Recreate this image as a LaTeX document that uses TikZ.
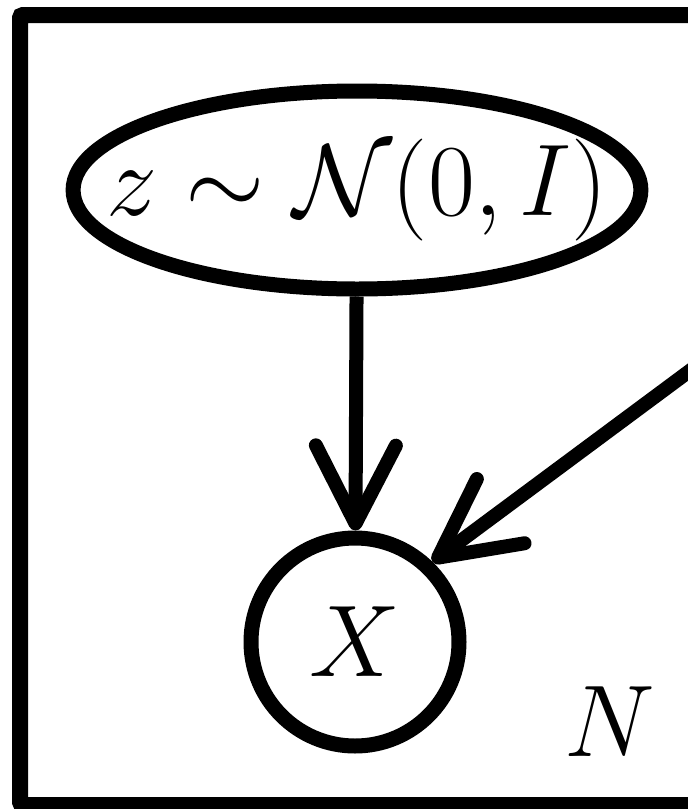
\RequirePackage{fix-cm}
\documentclass[tikz,border=0pt]{standalone}
\usetikzlibrary{arrows.meta,shapes.geometric}

\begin{document}
\begin{tikzpicture}[
  x=1pt, y=-1pt,
  font=\fontsize{102pt}{110pt}\selectfont,
  latent/.style={draw, ellipse, line width=15pt, inner xsep=-50pt, inner ysep=0pt,
                 minimum width=564pt, minimum height=198pt},
  observed/.style={draw, circle, line width=15pt, inner sep=0pt, minimum size=208pt},
  plate/.style={draw, line width=16pt, rounded corners=3pt},
  edge/.style={line width=14pt, -{Straight Barb[length=78pt, width=80pt, round]}}
]
\useasboundingbox (0,0) rectangle (688,809);
\clip (0,0) rectangle (688,809);
% plate
\draw[plate] (20,15) rectangle (760,805);
\node (lblN) at (610,722) {$N$};
% nodes
\node[latent]   (z) at (357,190) {$z \sim \mathcal{N}(0,I)$};
\node[observed] (X) at (355,642) {$X$};
\coordinate (theta) at (800,289);
% edges
\draw[edge] (z) -- (X);
\draw[edge] (theta) -- (X.46);
\end{tikzpicture}
\end{document}
